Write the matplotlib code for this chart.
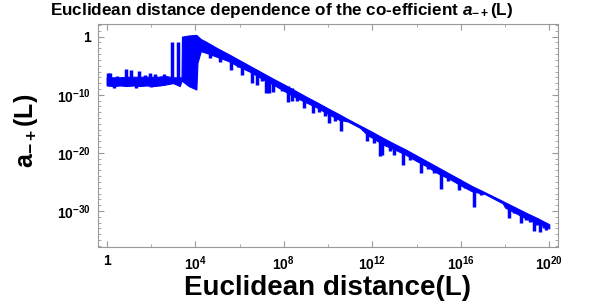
import numpy as np
import matplotlib
matplotlib.use("Agg")
import matplotlib.pyplot as plt
from matplotlib.ticker import FixedLocator, FuncFormatter, NullFormatter

plt.rcParams["font.family"] = "Liberation Sans"
plt.rcParams["font.weight"] = "bold"
plt.rcParams["mathtext.fontset"] = "custom"
plt.rcParams["mathtext.rm"] = "Liberation Sans:bold"
plt.rcParams["mathtext.bf"] = "Liberation Sans:bold"
plt.rcParams["mathtext.it"] = "Liberation Sans:bold:italic"

# band of the curve, log10 values
band_lx = np.array([0.00, 0.30, 0.60, 0.90, 1.20, 1.50, 1.80, 2.10, 2.40, 2.70, 3.00, 3.30, 3.38,
                    3.40, 3.70, 4.05, 4.10, 4.25, 4.50, 5.00, 5.50, 6.00, 6.50, 7.00, 7.50, 8.00,
                    8.50, 9.00, 9.50, 10.00, 10.50, 10.90, 11.45, 11.80, 12.00, 12.50, 13.00, 13.50,
                    14.00, 14.50, 15.00, 15.50, 16.00, 16.50, 17.10, 17.90, 18.00, 18.50, 19.00,
                    19.50, 20.00])
band_hi = np.array([-7.0, -7.0, -7.0, -6.9, -6.9, -6.9, -6.9, -6.9, -6.9, -6.8, -7.0, -7.0, -7.0,
                    0.0, 0.2, 0.3, 0.1, -0.4, -0.9, -2.0, -3.0, -4.05, -5.1, -6.15, -7.2, -8.2,
                    -9.25, -10.3, -11.3, -12.35, -13.35, -14.2, -15.3, -16.0, -16.4, -17.45, -18.45, -19.4,
                    -20.45, -21.5, -22.55, -23.6, -24.65, -25.7, -26.8, -28.3, -28.5, -29.45, -30.4,
                    -31.3, -32.3])
band_lo = np.array([-8.4, -8.5, -8.4, -8.5, -8.4, -8.5, -8.4, -8.5, -8.4, -8.2, -8.0, -8.5, -7.6,
                    -7.6, -8.5, -9.1, -4.5, -2.5, -2.8, -3.5, -4.2, -5.2, -6.1, -7.2, -8.2, -9.3,
                    -10.4, -11.3, -12.2, -13.3, -14.3, -14.6, -15.7, -17.0, -17.4, -18.6, -19.4, -20.3,
                    -21.4, -22.4, -23.6, -24.5, -25.6, -26.6, -27.1, -28.7, -29.4, -30.4, -31.4,
                    -32.2, -33.0])

# narrow spikes sticking out of the band
spike_lx = np.array([0.05, 0.15, 0.35, 0.45, 0.85, 1.10, 1.30, 1.45, 1.75, 1.95, 2.00, 2.20,
                     2.45, 2.60, 2.94, 3.20,
                     4.66, 5.10, 5.60, 5.93, 6.10, 6.55, 6.80, 7.00, 7.20, 7.35, 7.50, 7.90,
                     8.20, 8.35, 8.60, 8.90, 9.30, 9.60, 9.85, 10.05, 10.30, 10.60, 11.75,
                     12.10, 12.35, 12.45, 12.80, 13.00, 13.40, 13.70, 14.20, 14.50, 14.80,
                     15.10, 15.40, 15.90, 16.20, 16.60, 16.90, 18.20, 18.40, 18.70, 18.95,
                     19.15, 19.30, 19.45, 19.60, 19.75, 19.85])
spike_lo = np.array([-8.3, -8.3, -8.8, -7.5, -8.3, -8.3, -8.8, -8.3, -7.5, -8.3, -8.7, -8.3,
                     -7.5, -8.3, -8.0, -8.2,
                     -3.6, -4.3, -5.7, -5.3, -6.6, -7.9, -8.3, -7.7, -9.7, -9.7, -9.5, -9.4,
                     -11.2, -11.0, -11.0, -12.2, -13.1, -12.9, -13.6, -14.9, -14.6, -16.3, -18.0,
                     -18.3, -20.6, -20.4, -19.6, -20.3, -22.1, -21.2, -23.4, -22.8, -23.4,
                     -26.2, -24.8, -26.4, -26.1, -29.3, -27.3, -31.2, -30.3, -32.1, -31.5,
                     -31.9, -33.5, -32.5, -33.6, -32.9, -33.3])
spike_hi = np.array([-6.2, -6.2, -8.0, -6.7, -5.6, -5.7, -8.0, -5.9, -6.6, -6.3, -8.0, -6.4,
                     -6.7, -6.5, -1.0, -1.0,
                     -2.8, -3.4, -3.5, -4.6, -4.5, -5.5, -6.0, -7.0, -7.0, -7.0, -7.5, -8.8,
                     -8.5, -8.8, -10.2, -10.5, -11.3, -12.0, -12.6, -12.8, -13.8, -13.8, -16.2,
                     -17.2, -17.5, -17.6, -18.6, -18.8, -19.8, -20.2, -21.0, -22.0, -22.5,
                     -23.0, -24.0, -24.5, -25.4, -26.3, -26.7, -29.2, -29.6, -30.0, -30.7,
                     -31.0, -31.2, -31.7, -31.7, -32.0, -32.0])

x_major = [0, 4, 8, 12, 16, 20]
x_minor = [2, 6, 10, 14, 18]
y_major = [0, -10, -20, -30]
y_minor = [e for e in range(-36, 3) if e not in y_major]

fig = plt.figure(figsize=(6.08, 3.04), dpi=100)
ax = fig.add_axes([0.161, 0.1875, 0.757, 0.734])
ax.set_xscale("log")
ax.set_yscale("log")

ax.fill_between(10.0 ** band_lx, 10.0 ** band_lo, 10.0 ** band_hi,
                facecolor="blue", edgecolor="blue", linewidth=0.8)
ax.vlines(10.0 ** spike_lx, 10.0 ** spike_lo, 10.0 ** spike_hi, color="blue", linewidth=2.5)

ax.set_xlim(10 ** -0.4, 10 ** 20.4)
ax.set_ylim(10 ** -36.2, 10 ** 2.2)


def fmt(v, pos):
    e = int(round(np.log10(v)))
    if e == 0:
        return "1"
    return r"$\mathbf{10^{%d}}$" % e


ax.xaxis.set_major_locator(FixedLocator([10.0 ** e for e in x_major]))
ax.xaxis.set_minor_locator(FixedLocator([10.0 ** e for e in x_minor]))
ax.yaxis.set_major_locator(FixedLocator([10.0 ** e for e in y_major]))
ax.yaxis.set_minor_locator(FixedLocator([10.0 ** e for e in y_minor]))
ax.xaxis.set_major_formatter(FuncFormatter(fmt))
ax.yaxis.set_major_formatter(FuncFormatter(fmt))
ax.xaxis.set_minor_formatter(NullFormatter())
ax.yaxis.set_minor_formatter(NullFormatter())

frame = "#999999"
ax.tick_params(which="both", direction="in", top=True, right=True, color=frame,
               labelsize=10, labelcolor="black", pad=5)
ax.tick_params(which="major", length=4, width=0.8)
ax.tick_params(which="minor", length=2, width=0.6)
for s in ax.spines.values():
    s.set_color(frame)

fig.text(0.464, 0.964, r"Euclidean distance dependence of the co-efficient $a_{-+}$(L)",
         ha="center", va="center", fontsize=12.3, fontweight="bold")
fig.text(0.538, 0.053, "Euclidean distance(L)", ha="center", va="center",
         fontsize=20, fontweight="bold")
fig.text(0.043, 0.57, r"$\mathbf{a_{-+}}$(L)", ha="center", va="center",
         rotation=90, fontsize=18, fontweight="bold")

fig.savefig("out.png", dpi=100)
